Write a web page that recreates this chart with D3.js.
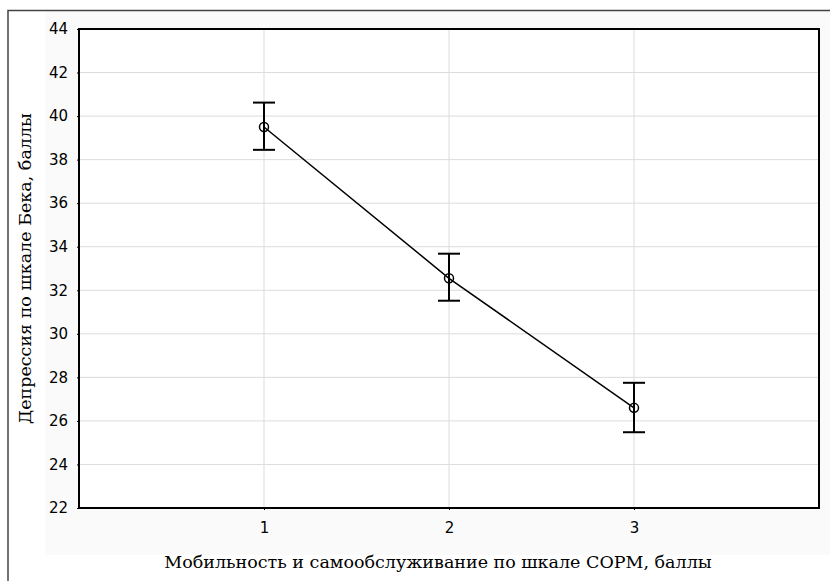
<!DOCTYPE html>
<html>
<head>
<meta charset="utf-8">
<script src="https://cdn.jsdelivr.net/npm/d3@7"></script>
<style>
  body { margin: 0; background: #fff; }
</style>
</head>
<body>
<svg id="chart" width="830" height="581"></svg>
<script>
const groups = [1, 2, 3];
const means = [39.5, 32.55, 26.6];
const upper = [40.62, 33.68, 27.75];
const lower = [38.45, 31.52, 25.48];
const yTicks = [22, 24, 26, 28, 30, 32, 34, 36, 38, 40, 42, 44];

const svg = d3.select("#chart");
const margin = { top: 29, right: 11, bottom: 73, left: 79 };
const width = 830 - margin.left - margin.right;
const height = 581 - margin.top - margin.bottom;

// outer frame + light panel
svg.append("rect").attr("x", 45).attr("y", 11).attr("width", 785).attr("height", 544).attr("fill", "#fafafa");
svg.append("path").attr("d", "M8,581V10.5H830").attr("fill", "none").attr("stroke", "#444").attr("stroke-width", 1.5);

const x = d3.scaleLinear().domain([0, 4]).range([0, width]);
const y = d3.scaleLinear().domain([22, 44]).range([height, 0]);

const g = svg.append("g").attr("transform", "translate(" + margin.left + "," + margin.top + ")");

g.append("rect").attr("width", width).attr("height", height).attr("fill", "#fff");

// grid
g.selectAll(".hgrid").data(yTicks.slice(1, -1)).join("line")
  .attr("x1", 0).attr("x2", width)
  .attr("y1", d => y(d)).attr("y2", d => y(d))
  .attr("stroke", "#dcdcdc").attr("stroke-width", 1);
g.selectAll(".vgrid").data(groups).join("line")
  .attr("x1", d => x(d)).attr("x2", d => x(d))
  .attr("y1", 0).attr("y2", height)
  .attr("stroke", "#dcdcdc").attr("stroke-width", 1);

// axes
const yAxis = g.append("g")
  .call(d3.axisLeft(y).tickValues(yTicks).tickSize(2).tickPadding(9));
const xAxis = g.append("g")
  .attr("transform", "translate(0," + height + ")")
  .call(d3.axisBottom(x).tickValues(groups).tickFormat(d3.format("d")).tickSize(2).tickPadding(12));
[yAxis, xAxis].forEach(a => {
  a.attr("font-size", null).attr("font-family", null);
  a.select(".domain").remove();
  a.selectAll("line").attr("stroke", "#000");
  a.selectAll("text").attr("fill", "#000")
    .style("font-family", "'DejaVu Sans', Arial, sans-serif").style("font-size", "15px");
});

g.append("rect").attr("width", width).attr("height", height)
  .attr("fill", "none").attr("stroke", "#000").attr("stroke-width", 2);

// line
g.append("path")
  .datum(groups)
  .attr("fill", "none").attr("stroke", "#000").attr("stroke-width", 1.5)
  .attr("d", d3.line().x(d => x(d)).y((d, i) => y(means[i])));

// error bars
const eb = g.selectAll(".eb").data(groups).join("g");
eb.append("line")
  .attr("x1", d => x(d)).attr("x2", d => x(d))
  .attr("y1", (d, i) => y(upper[i])).attr("y2", (d, i) => y(lower[i]))
  .attr("stroke", "#000").attr("stroke-width", 2);
eb.append("line")
  .attr("x1", d => x(d) - 11).attr("x2", d => x(d) + 11)
  .attr("y1", (d, i) => y(upper[i])).attr("y2", (d, i) => y(upper[i]))
  .attr("stroke", "#000").attr("stroke-width", 2);
eb.append("line")
  .attr("x1", d => x(d) - 11).attr("x2", d => x(d) + 11)
  .attr("y1", (d, i) => y(lower[i])).attr("y2", (d, i) => y(lower[i]))
  .attr("stroke", "#000").attr("stroke-width", 2);
eb.append("circle")
  .attr("cx", d => x(d)).attr("cy", (d, i) => y(means[i])).attr("r", 4.5)
  .attr("fill", "none").attr("stroke", "#000").attr("stroke-width", 1.5);

// axis titles
svg.append("text")
  .attr("x", 438).attr("y", 568)
  .attr("text-anchor", "middle")
  .style("font-family", "'DejaVu Serif', 'Liberation Serif', serif").style("font-size", "17.5px")
  .text("Мобильность и самообслуживание по шкале СОРМ, баллы");

svg.append("text")
  .attr("transform", "translate(31," + (margin.top + height / 2) + ") rotate(-90)")
  .attr("text-anchor", "middle")
  .style("font-family", "'DejaVu Serif', 'Liberation Serif', serif").style("font-size", "17.5px")
  .text("Депрессия по шкале Бека, баллы");
</script>
</body>
</html>
